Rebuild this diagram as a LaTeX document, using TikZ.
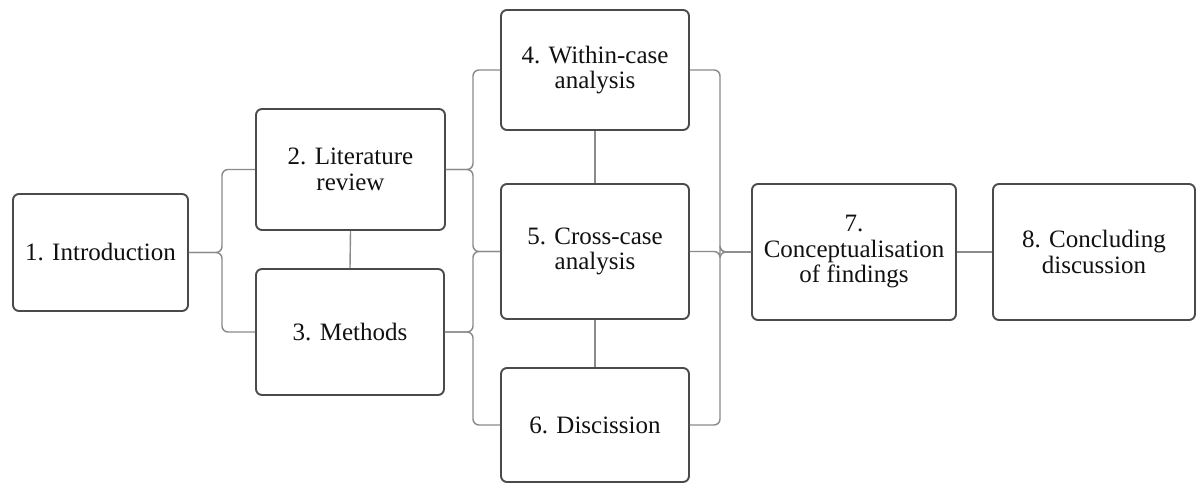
\documentclass[tikz,border=0pt]{standalone}
\usepackage{fontspec}
\setmainfont{Liberation Serif}
\newfontfamily\stageface{Liberation Serif}
\begin{document}
\begin{tikzpicture}[x=1pt,y=-1pt,
  stagebox/.style={draw=boxgray, line width=1.9pt, rounded corners=6pt, fill=white,
    inner sep=0pt, align=center, text=textdark,
    font=\stageface\fontsize{25}{25.5}\selectfont},
  link/.style={draw=linegray, line width=1.4pt, rounded corners=6pt}]
\definecolor{boxgray}{HTML}{4A4A4A}
\definecolor{linegray}{HTML}{8A8A8A}
\definecolor{textdark}{HTML}{111111}
\useasboundingbox (0,0) rectangle (1197,486);

% chapter boxes
\node[stagebox, minimum width=175pt, minimum height=117pt] (b1) at (100.5,252.5) {1. Introduction};
\node[stagebox, minimum width=189pt, minimum height=121pt] (b2) at (350.5,169.5) {2. Literature\\review};
\node[stagebox, minimum width=188pt, minimum height=126pt] (b3) at (350,332) {3. Methods};
\node[stagebox, minimum width=188pt, minimum height=120pt] (b4) at (595,70) {4. Within-case\\analysis};
\node[stagebox, minimum width=188pt, minimum height=135pt] (b5) at (595,251.5) {5. Cross-case\\analysis};
\node[stagebox, minimum width=188pt, minimum height=114pt] (b6) at (595,425) {6. Discission};
\node[stagebox, minimum width=204pt, minimum height=136pt] (b7) at (854,252) {7.\\Conceptualisation\\of findings};
\node[stagebox, minimum width=202pt, minimum height=136pt] (b8) at (1094,252) {8. Concluding\\discussion};

% x positions of the bracket spines
\coordinate (jl) at (222,0);
\coordinate (jm) at (473,0);
\coordinate (jr) at (720,0);

% left bracket
\draw[link] (b1.east) -- (b1.east -| jl) |- (b2.west);
\draw[link] (b1.east) -- (b1.east -| jl) |- (b3.west);
% middle brackets
\draw[link] (b2.east) -- (b2.east -| jm) |- (b4.west);
\draw[link] (b2.east) -- (b2.east -| jm) |- (b5.west);
\draw[link] (b3.east) -- (b3.east -| jm) |- (b5.west);
\draw[link] (b3.east) -- (b3.east -| jm) |- (b6.west);
% right bracket
\draw[link] (b4.east) -| (b7.west -| jr) -- (b7.west);
\draw[link] (b5.east) -| (b7.west -| jr) -- (b7.west);
\draw[link] (b6.east) -| (b7.west -| jr) -- (b7.west);
\draw[link] (b7.east) -- (b8.west);
% vertical ties
\draw[link] (b2.south) -- (b3.north);
\draw[link] (b4.south) -- (b5.north);
\draw[link] (b5.south) -- (b6.north);
\end{tikzpicture}
\end{document}
